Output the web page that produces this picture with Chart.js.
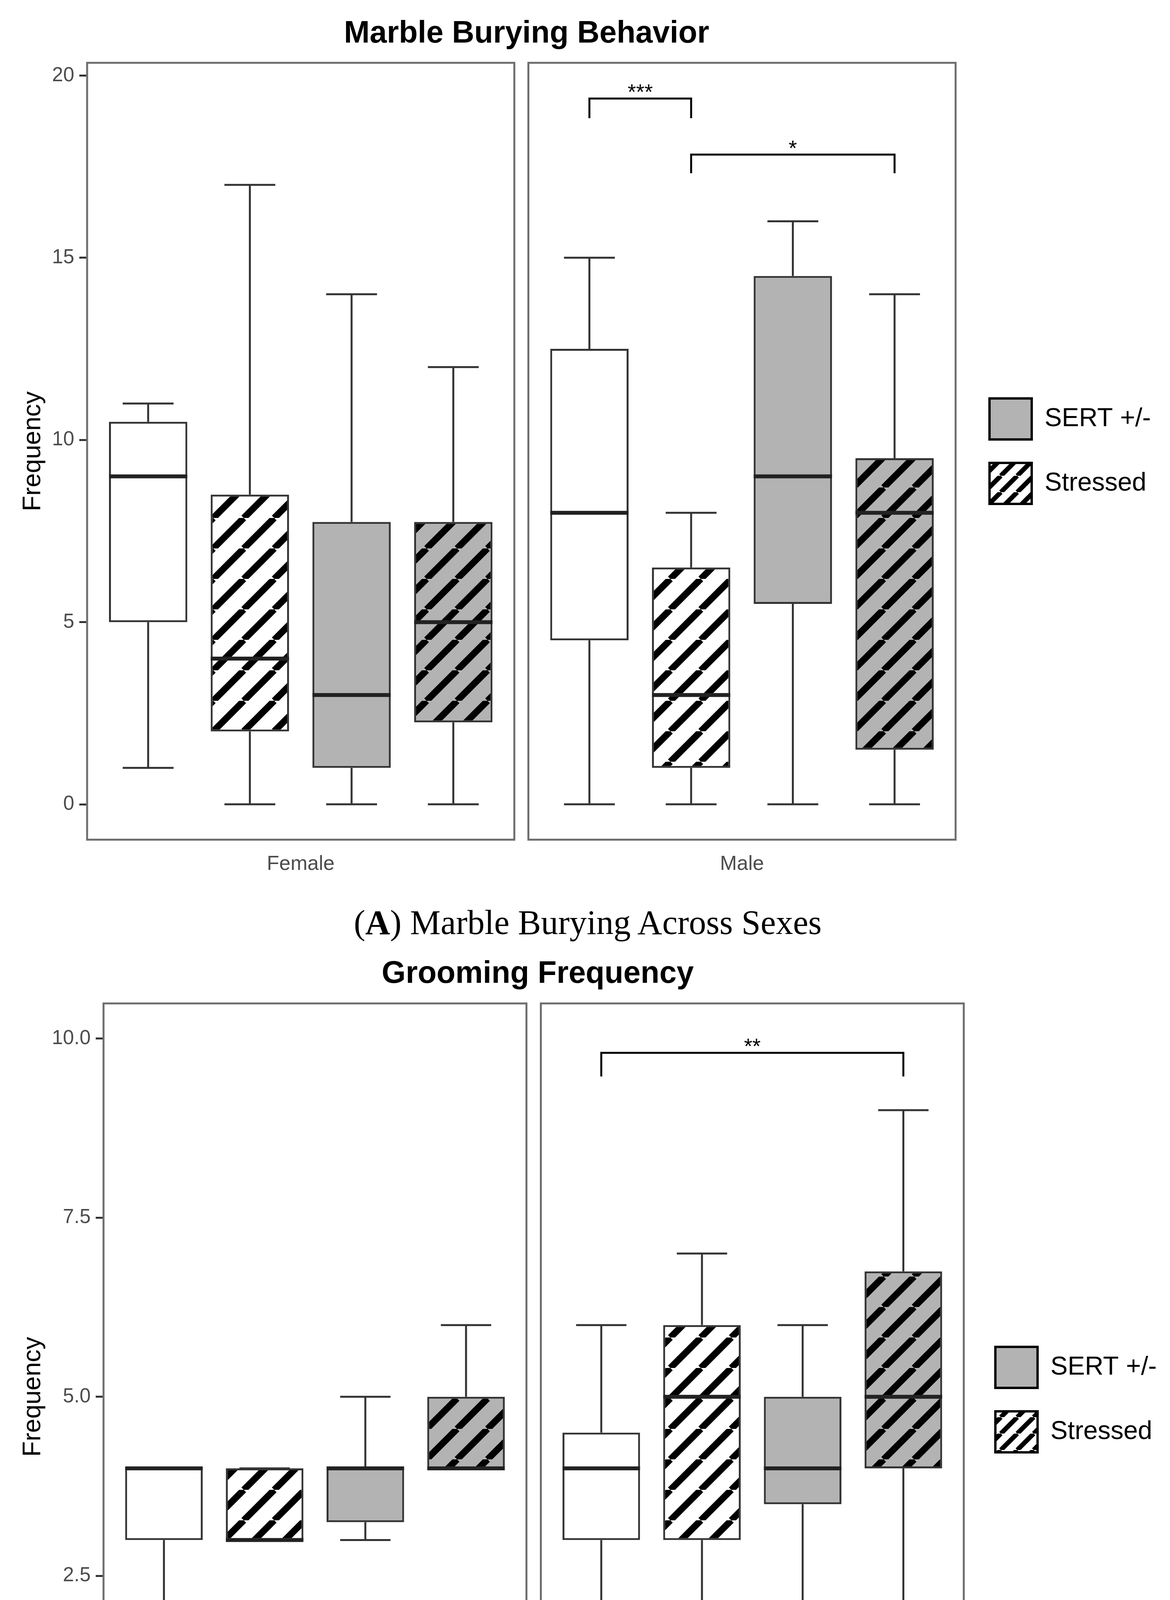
<!DOCTYPE html>
<html>
<head>
<meta charset="utf-8">
<title>Marble Burying and Grooming</title>
<script src="https://cdn.jsdelivr.net/npm/chart.js@4.4.1/dist/chart.umd.min.js"></script>
<style>
  body { margin: 0; background: #fff; }
  #page { position: relative; width: 2995px; height: 4885px; }
  .panel { position: absolute; left: 0; width: 2995px; }
  .caption { position: absolute; left: 7px; width: 2995px; text-align: center;
    font-family: 'Liberation Serif', 'Times New Roman', serif; font-size: 88px;
    line-height: 88px; color: #000; white-space: nowrap; }
</style>
</head>
<body>
<div id="page">
  <div class="panel" style="top:0;height:2276px"><canvas id="marbleChart"></canvas></div>
  <div class="caption" style="top:2318px">(<b>A</b>) Marble Burying Across Sexes</div>
  <div class="panel" style="top:2410px;height:2301px"><canvas id="groomChart"></canvas></div>
  <div class="caption" style="top:4749px">(<b>B</b>) Grooming Frequency Across Sexes</div>
</div>
<script>
'use strict';
let sexes = ['Female', 'Male'];
let groups = ['Control', 'Stressed', 'SERT +/-', 'SERT +/- Stressed'];
let legendLabels = ['SERT +/-', 'Stressed'];

// [min, q1, median, q3, max] for each group
let marbleFemale = [[1, 5, 9, 10.5, 11], [0, 2, 4, 8.5, 17], [0, 1, 3, 7.75, 14], [0, 2.25, 5, 7.75, 12]];
let marbleMale = [[0, 4.5, 8, 12.5, 15], [0, 1, 3, 6.5, 8], [0, 5.5, 9, 14.5, 16], [0, 1.5, 8, 9.5, 14]];
let groomFemale = [[2, 3, 4, 4, 4], [3, 3, 3, 4, 4], [3, 3.25, 4, 4, 5], [4, 4, 4, 5, 6]];
let groomMale = [[2, 3, 4, 4.5, 6], [2, 3, 5, 6, 7], [2, 3.5, 4, 5, 6], [2, 4, 5, 6.75, 9]];

// significance: facet, from group, to group, bracket value, leg end value, label
let marbleSig = [[1, 0, 1, 19.37, 18.83, '***'], [1, 1, 3, 17.83, 17.32, '*']];
let groomSig = [[1, 0, 3, 9.8, 9.47, '**']];

let marbleTicks = [0, 5, 10, 15, 20];
let groomTicks = [0, 2.5, 5, 7.5, 10];

Chart.defaults.font.family = "'Liberation Sans', Arial, sans-serif";

function hatch(base, size, width) {
    let tile = document.createElement('canvas');
    tile.width = size;
    tile.height = size;
    let c = tile.getContext('2d');
    c.fillStyle = base;
    c.fillRect(0, 0, size, size);
    c.strokeStyle = '#000';
    c.lineWidth = width;
    c.beginPath();
    for (let k = -1; k <= 1; k++) {
        c.moveTo(k * size, size);
        c.lineTo(k * size + size, 0);
    }
    c.stroke();
    return c.createPattern(tile, 'repeat');
}

let grey = '#b3b3b3';
let fills = ['#ffffff', hatch('#ffffff', 78, 17), grey, hatch(grey, 78, 17)];
let keyHatch = hatch('#ffffff', 42, 12);

function makeChart(id, cfg) {
    let facetW = 4.2;
    let pos = (s, g) => 1 + g + s * (facetW + cfg.gap);
    let stats = [cfg.female, cfg.male];

    let datasets = groups.map((name, g) => ({
        label: name,
        data: sexes.map((sx, s) => ({ x: pos(s, g), y: [stats[s][g][1], stats[s][g][3]] })),
        backgroundColor: fills[g],
        borderColor: '#333',
        borderWidth: 5,
        borderSkipped: false,
        grouped: false,
        barPercentage: 0.77,
        categoryPercentage: 1
    }));

    let boxPlugin = {
        id: 'boxes',
        beforeDatasetsDraw(chart) {
            let { ctx, chartArea, scales: { x, y } } = chart;
            ctx.save();
            ctx.strokeStyle = '#6e6e6e';
            ctx.lineWidth = 5;
            sexes.forEach((sx, s) => {
                let l = x.getPixelForValue(pos(s, 0) - 0.6);
                let r = x.getPixelForValue(pos(s, 3) + 0.6);
                ctx.strokeRect(l, chartArea.top, r - l, chartArea.bottom - chartArea.top);
            });
            ctx.strokeStyle = '#333';
            ctx.lineWidth = 5;
            sexes.forEach((sx, s) => {
                groups.forEach((gn, g) => {
                    let st = stats[s][g];
                    let cx = x.getPixelForValue(pos(s, g));
                    let half = x.getPixelForValue(pos(s, g) + 0.25) - cx;
                    ctx.beginPath();
                    ctx.moveTo(cx, y.getPixelForValue(st[3]));
                    ctx.lineTo(cx, y.getPixelForValue(st[4]));
                    ctx.moveTo(cx, y.getPixelForValue(st[1]));
                    ctx.lineTo(cx, y.getPixelForValue(st[0]));
                    ctx.moveTo(cx - half, y.getPixelForValue(st[4]));
                    ctx.lineTo(cx + half, y.getPixelForValue(st[4]));
                    ctx.moveTo(cx - half, y.getPixelForValue(st[0]));
                    ctx.lineTo(cx + half, y.getPixelForValue(st[0]));
                    ctx.stroke();
                });
            });
            ctx.restore();
        },
        afterDatasetsDraw(chart) {
            let { ctx, scales: { y } } = chart;
            ctx.save();
            ctx.strokeStyle = '#222';
            ctx.lineWidth = 10;
            chart.data.datasets.forEach((ds, g) => {
                chart.getDatasetMeta(g).data.forEach((bar, s) => {
                    let my = y.getPixelForValue(stats[s][g][2]);
                    ctx.beginPath();
                    ctx.moveTo(bar.x - bar.width / 2, my);
                    ctx.lineTo(bar.x + bar.width / 2, my);
                    ctx.stroke();
                });
            });
            ctx.restore();
        },
        afterDraw(chart) {
            let { ctx, scales: { x, y } } = chart;
            ctx.save();
            ctx.strokeStyle = '#000';
            ctx.fillStyle = '#000';
            ctx.lineWidth = 5;
            ctx.font = "55px 'Liberation Sans', Arial, sans-serif";
            ctx.textAlign = 'center';
            ctx.textBaseline = 'alphabetic';
            cfg.sig.forEach(b => {
                let x1 = x.getPixelForValue(pos(b[0], b[1]));
                let x2 = x.getPixelForValue(pos(b[0], b[2]));
                let top = y.getPixelForValue(b[3]);
                let leg = y.getPixelForValue(b[4]);
                ctx.beginPath();
                ctx.moveTo(x1, leg);
                ctx.lineTo(x1, top);
                ctx.lineTo(x2, top);
                ctx.lineTo(x2, leg);
                ctx.stroke();
                ctx.fillText(b[5], (x1 + x2) / 2, top + 2);
            });
            ctx.restore();
        }
    };

    return new Chart(document.getElementById(id), {
        type: 'bar',
        data: { datasets: datasets },
        plugins: [boxPlugin],
        options: {
            responsive: true,
            maintainAspectRatio: false,
            animation: false,
            events: [],
            layout: { autoPadding: false, padding: { left: 0, top: 0, right: cfg.legendRight, bottom: 0 } },
            scales: {
                x: {
                    type: 'linear',
                    offset: false,
                    min: 0.4,
                    max: pos(1, 3) + 0.6 + cfg.rightSpace,
                    afterBuildTicks: s => { s.ticks = sexes.map((n, i) => ({ value: (pos(i, 0) + pos(i, 3)) / 2 })); },
                    ticks: {
                        callback: (v, i) => sexes[i],
                        font: { size: 52 },
                        color: '#4d4d4d',
                        padding: cfg.xPad,
                        maxRotation: 0,
                        autoSkip: false
                    },
                    grid: { display: false, drawTicks: false, offset: false },
                    border: { display: false }
                },
                y: {
                    type: 'linear',
                    min: cfg.yMin,
                    max: cfg.yMax,
                    afterBuildTicks: s => { s.ticks = cfg.ticks.map(v => ({ value: v })); },
                    afterFit: s => { s.width = cfg.axisWidth; },
                    ticks: {
                        callback: cfg.fmt,
                        font: { size: 51 },
                        color: '#4d4d4d',
                        padding: 13
                    },
                    grid: { display: true, drawOnChartArea: false, drawTicks: true, tickLength: 20, tickWidth: 5, tickColor: '#333' },
                    border: { display: false },
                    title: {
                        display: true,
                        text: 'Frequency',
                        font: { size: 65 },
                        color: '#000',
                        padding: { top: 46, bottom: 0 }
                    }
                }
            },
            plugins: {
                tooltip: { enabled: false },
                title: {
                    display: true,
                    text: cfg.title,
                    fullSize: false,
                    color: '#000',
                    font: { size: 79, weight: 'bold' },
                    padding: cfg.titlePad
                },
                legend: {
                    position: 'right',
                    align: 'center',
                    onClick: () => {},
                    title: { display: true, text: '', font: { size: cfg.legendShift, lineHeight: 1 }, padding: 0 },
                    labels: {
                        boxWidth: 108,
                        boxHeight: 105,
                        padding: 60,
                        color: '#000',
                        font: { size: 66 },
                        generateLabels: () => [
                            { text: legendLabels[0], fillStyle: grey, strokeStyle: '#000', lineWidth: 6, hidden: false, fontColor: '#000' },
                            { text: legendLabels[1], fillStyle: keyHatch, strokeStyle: '#000', lineWidth: 6, hidden: false, fontColor: '#000' }
                        ]
                    }
                }
            }
        }
    });
}

makeChart('marbleChart', {
    title: 'Marble Burying Behavior',
    female: marbleFemale,
    male: marbleMale,
    sig: marbleSig,
    ticks: marbleTicks,
    fmt: v => String(v),
    yMin: -0.97,
    yMax: 20.35,
    axisWidth: 223,
    gap: 0.138,
    rightSpace: 0.103,
    xPad: 32,
    legendRight: 39,
    legendShift: 34,
    titlePad: { top: 40, bottom: 26 }
});

makeChart('groomChart', {
    title: 'Grooming Frequency',
    female: groomFemale,
    male: groomMale,
    sig: groomSig,
    ticks: groomTicks,
    fmt: v => v.toFixed(1),
    yMin: -0.49,
    yMax: 10.49,
    axisWidth: 265,
    gap: 0.143,
    rightSpace: 0.081,
    xPad: 33,
    legendRight: 24,
    legendShift: 45,
    titlePad: { top: 37, bottom: 27 }
});
</script>
</body>
</html>
